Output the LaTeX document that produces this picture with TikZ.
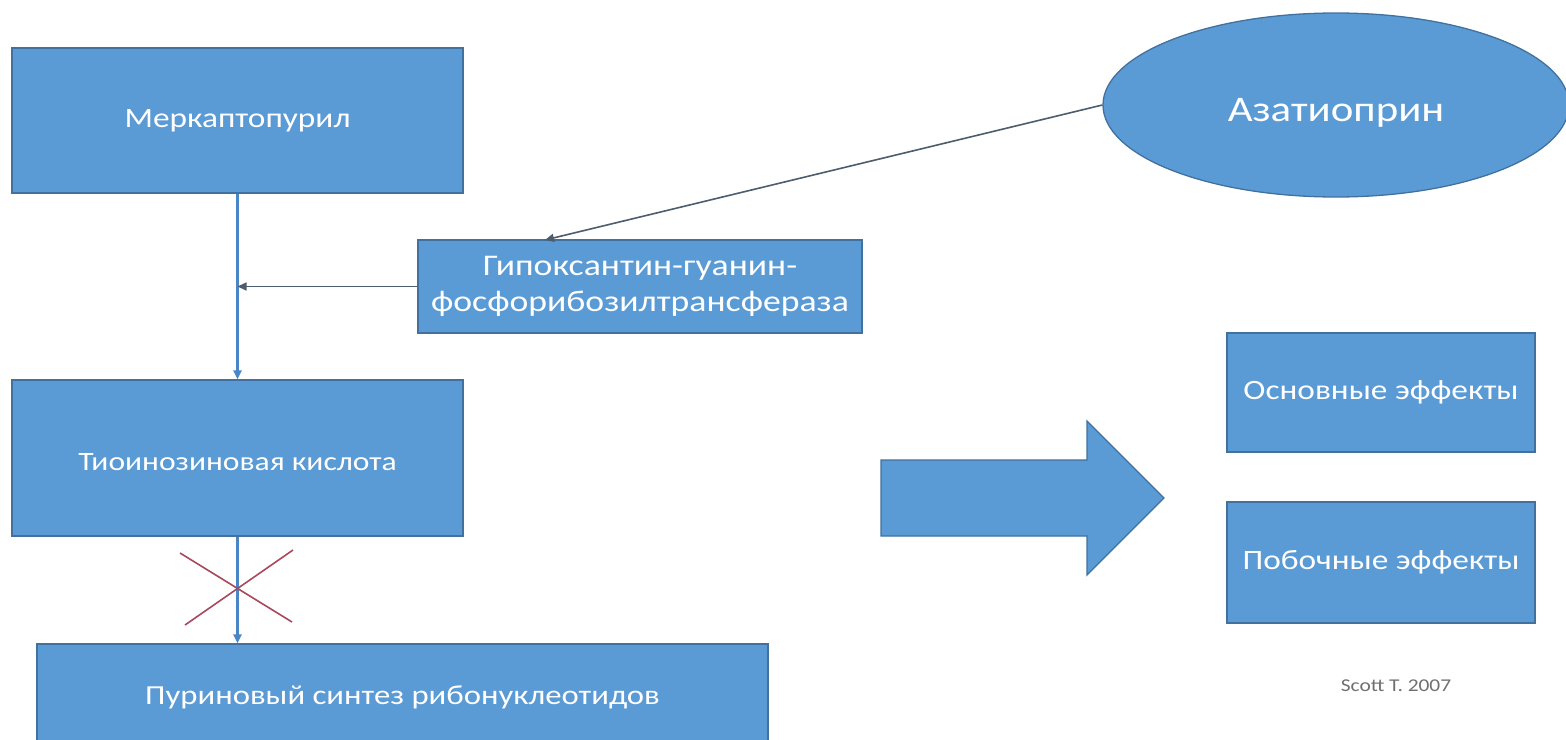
\documentclass[tikz,border=0pt]{standalone}
\usepackage{fontspec}
\setmainfont{Carlito}[FakeStretch=1.19]
\usetikzlibrary{shapes.geometric,arrows.meta,calc}
\definecolor{boxfill}{HTML}{5B9BD5}
\definecolor{boxline}{HTML}{41719C}
\definecolor{conblue}{HTML}{4A86C5}
\definecolor{condark}{HTML}{4E5D6E}
\definecolor{crossred}{HTML}{A8485C}
\definecolor{notegray}{HTML}{6F6F6F}
\tikzset{
  bluebox/.style={draw=boxline, line width=1.3pt, fill=boxfill, text=white,
    inner sep=0pt, align=center, font=\fontsize{28}{35}\selectfont},
  conn/.style={draw=conblue, line width=2.2pt, -{Triangle[length=9pt,width=8pt]}},
  conndark/.style={draw=condark, line width=1.6pt, -{Triangle[length=9pt,width=8pt]}},
  crossline/.style={draw=crossred, line width=1.6pt},
}
\begin{document}
\begin{tikzpicture}[x=1pt,y=-1pt]
\useasboundingbox (0,0) rectangle (1566,739);
\clip (0,0) rectangle (1566,739);
\fill[white] (0,0) rectangle (1566,739);

\node[bluebox, minimum width=451pt, minimum height=145pt] (m1) at (237.5,120.5) {Меркаптопурил};
\node[bluebox, minimum width=451pt, minimum height=156pt, font=\fontsize{26.5}{33}\selectfont] (t) at (237.5,458) {\raisebox{-4pt}[\height][\depth]{Тиоинозиновая кислота}};
\node[bluebox, minimum width=731pt, minimum height=106pt, font=\fontsize{27.5}{34}\selectfont] (p) at (402.5,697) {Пуриновый синтез рибонуклеотидов};
\node[bluebox, minimum width=444pt, minimum height=93pt, font=\fontsize{30}{36}\selectfont] (h) at (640,286.5) {Гипоксантин-гуанин-\\фосфорибозилтрансфераза};
\node[bluebox, ellipse, minimum width=466pt, minimum height=184pt, font=\fontsize{36}{42}\selectfont] (az) at (1336,105) {\raisebox{-8pt}[\height][\depth]{Азатиоприн}};
\node[bluebox, minimum width=308pt, minimum height=119pt] (e1) at (1381,392.5) {Основные эффекты};
\node[bluebox, minimum width=308pt, minimum height=121pt] (e2) at (1381,562.5) {Побочные эффекты};
\node[text=notegray, font=\fontsize{18}{22}\selectfont] (sc) at (1396,686) {Scott T.\ 2007};

% big arrow
\filldraw[fill=boxfill, draw=boxline, line width=1.3pt]
  (881,460) -- (1087,460) -- (1087,421) -- (1164,498) -- (1087,575) -- (1087,536) -- (881,536) -- cycle;

% connectors
\draw[conn] (m1.south) -- (t.north);
\coordinate (j) at (m1.south |- h.west);
\draw[conndark] (h.west) -- (j);
\draw[conndark] (az.west) -- (545,240);
\draw[conn] (t.south) -- (t.south |- p.north);

% red cross
\coordinate (xc) at (237,588);
\draw[crossline] ($(xc)+(-57,-35)$) -- ($(xc)+(55,34)$);
\draw[crossline] ($(xc)+(56,-38)$) -- ($(xc)+(-52,37)$);
\end{tikzpicture}
\end{document}
